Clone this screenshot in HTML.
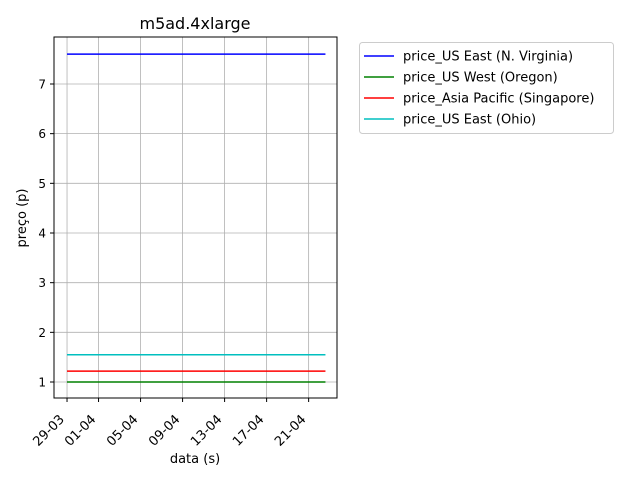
<!DOCTYPE html>
<html><head><meta charset="utf-8"><style>
body{margin:0;background:#fff;}
svg{font-family:"DejaVu Sans","Liberation Sans",sans-serif;}
</style></head><body>
<svg id="chart" width="640" height="480">
<text x="195" y="29" font-size="16" text-anchor="middle">m5ad.4xlarge</text>
<g id="grid"></g>
<g id="series"></g>
<rect x="54" y="37" width="283" height="361" fill="none" stroke="#000" stroke-width="1"/>
<g id="axes"></g>
<text x="195" y="463" font-size="13" text-anchor="middle">data (s)</text>
<text transform="translate(26,218) rotate(-90)" font-size="13" text-anchor="middle">preço (p)</text>
<g id="legend"></g>
</svg>
<script>
const seriesNames=["price_US East (N. Virginia)","price_US West (Oregon)","price_Asia Pacific (Singapore)","price_US East (Ohio)"];
const seriesColors=["#0000ff","#008000","#ff0000","#00bfbf"];
const seriesValues=[7.6,1.0,1.22,1.55];
const dayStart=[0,0,0,0];
const dayEnd=[24.6,24.6,24.6,24.6];
const xTickDays=[0,3,7,11,15,19,23];
const xTickLabels=["29-03","01-04","05-04","09-04","13-04","17-04","21-04"];
const yTicks=[1,2,3,4,5,6,7];
const NS="http://www.w3.org/2000/svg";
const X0=54,X1=337,Y0=398,Y1=37;
const dMin=-1.24,dMax=25.7,vMin=0.678,vMax=7.946;
const xs=d=>X0+(d-dMin)/(dMax-dMin)*(X1-X0);
const ys=v=>Y0-(v-vMin)/(vMax-vMin)*(Y0-Y1);
function mk(tag,attrs,parent){const e=document.createElementNS(NS,tag);for(const k in attrs)e.setAttribute(k,attrs[k]);parent.appendChild(e);return e;}
const grid=document.getElementById('grid'),axes=document.getElementById('axes'),ser=document.getElementById('series'),leg=document.getElementById('legend');
xTickDays.forEach((d,i)=>{const x=xs(d);
 const g=mk('line',{x1:x,x2:x,y1:Y1,y2:Y0,stroke:'#b0b0b0','stroke-width':0.8},grid);
 
 
 mk('line',{x1:x,x2:x,y1:Y0,y2:Y0+4,stroke:'#000'},axes);
 const t=mk('text',{transform:`translate(${x-2},${Y0+22}) rotate(-45)`,'font-size':13,'text-anchor':'end'},axes);
 t.textContent=xTickLabels[i];
 
 
});
yTicks.forEach(v=>{const y=ys(v);
 const g=mk('line',{x1:X0,x2:X1,y1:y,y2:y,stroke:'#b0b0b0','stroke-width':0.8},grid);
 
 
 mk('line',{x1:X0-4,x2:X0,y1:y,y2:y,stroke:'#000'},axes);
 const t=mk('text',{x:X0-8,y:y+4.5,'font-size':12,'text-anchor':'end'},axes);
 t.textContent=v;
 
 
});
seriesValues.forEach((v,i)=>{
 const l=mk('line',{x1:xs(dayStart[i]),x2:xs(dayEnd[i]),y1:ys(v),y2:ys(v),stroke:seriesColors[i],'stroke-width':1.5},ser);
 
 
});
const lb=mk('rect',{x:359.5,y:42.5,width:254,height:91,rx:3,fill:'#fff',stroke:'#ccc'},leg);


seriesNames.forEach((n,i)=>{const y=56+i*21;
 const g=mk('g',{},leg);
 
 
 mk('line',{x1:364,x2:394,y1:y,y2:y,stroke:seriesColors[i],'stroke-width':1.5},g);
 const t=mk('text',{x:403,y:y+4.5,'font-size':13},g);t.textContent=n;
});
</script>
</body></html>
